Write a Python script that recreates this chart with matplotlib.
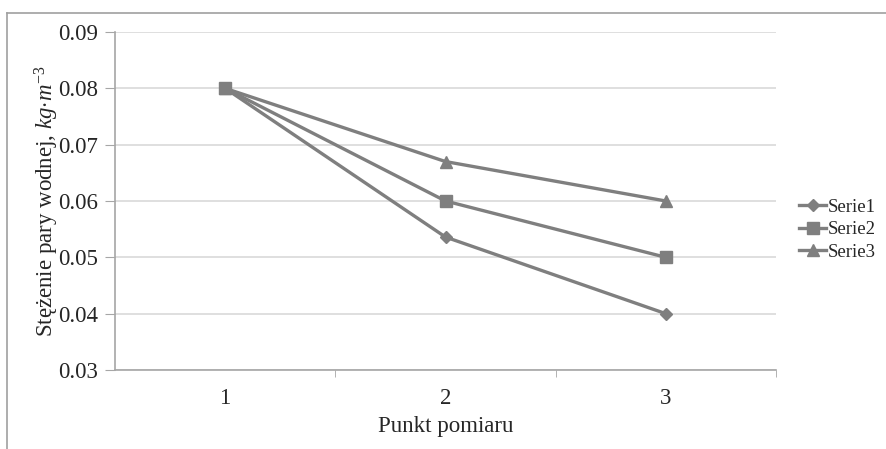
import matplotlib
matplotlib.use("Agg")
import matplotlib.pyplot as plt
from matplotlib.lines import Line2D

plt.rcParams['font.family'] = ['Liberation Serif', 'DejaVu Serif']
plt.rcParams['mathtext.fontset'] = 'custom'
plt.rcParams['mathtext.rm'] = 'Liberation Serif'
plt.rcParams['mathtext.it'] = 'Liberation Serif:italic'

points = [1, 2, 3]
serie1 = [0.08, 0.0536, 0.04]
serie2 = [0.08, 0.06, 0.05]
serie3 = [0.08, 0.067, 0.06]
series_names = ["Serie1", "Serie2", "Serie3"]
y_ticks = [0.03, 0.04, 0.05, 0.06, 0.07, 0.08, 0.09]

line_col = "#7f7f7f"
grid_col = "#d9d9d9"
axis_col = "#a6a6a6"
text_col = "#262626"

fig = plt.figure(figsize=(8.86, 4.49), dpi=100)
ax = fig.add_axes([115 / 886, 1 - 370 / 449, (776 - 115) / 886, (370 - 32) / 449])

markers = ["D", "s", "^"]
sizes = [6, 8, 8]
for vals, name, m, ms in zip([serie1, serie2, serie3], series_names, markers, sizes):
    ax.plot(points, vals, color=line_col, lw=2.4, marker=m, ms=ms,
            markerfacecolor=line_col, markeredgecolor=line_col, label=name)

ax.set_xlim(0.5, 3.5)
ax.set_ylim(0.03, 0.09)
ax.set_yticks(y_ticks)
ax.set_yticklabels([f"{v:.2f}" for v in y_ticks])
ax.set_xticks(points)
ax.set_xticklabels([str(p) for p in points])
ax.set_xticks([1.5, 2.5, 3.5], minor=True)
ax.tick_params(axis="x", which="major", length=0, pad=13, labelsize=16.5, labelcolor=text_col)
ax.tick_params(axis="x", which="minor", length=5, color=axis_col, direction="out")
ax.tick_params(axis="y", length=7, color=axis_col, labelsize=16.5, labelcolor=text_col, pad=5)

ax.grid(axis="y", color=grid_col, lw=1.2)
ax.set_axisbelow(True)
for s in ["top", "right"]:
    ax.spines[s].set_visible(False)
for s in ["left", "bottom"]:
    ax.spines[s].set_color(axis_col)
    ax.spines[s].set_linewidth(1.2)

ax.set_xlabel("Punkt pomiaru", fontsize=16.5, color=text_col, labelpad=5)
ax.set_ylabel(r"Stężenie pary wodnej, $\mathit{kg{\cdot}m^{-3}}$", fontsize=16.5,
              color=text_col, labelpad=-2)

ax.legend(loc="center left", bbox_to_anchor=(1.01, 0.415), frameon=False,
          fontsize=13.5, handlelength=1.4, handletextpad=0.1, labelspacing=0.3,
          labelcolor=text_col)

# outer chart frame (top and left edges)
fig.add_artist(Line2D([7 / 886, 1.0], [1 - 12.5 / 449, 1 - 12.5 / 449],
                      transform=fig.transFigure, color="#a0a0a0", lw=1.2))
fig.add_artist(Line2D([7 / 886, 7 / 886], [0.0, 1 - 12.5 / 449],
                      transform=fig.transFigure, color="#a0a0a0", lw=1.2))

fig.savefig("out.png", dpi=100)
